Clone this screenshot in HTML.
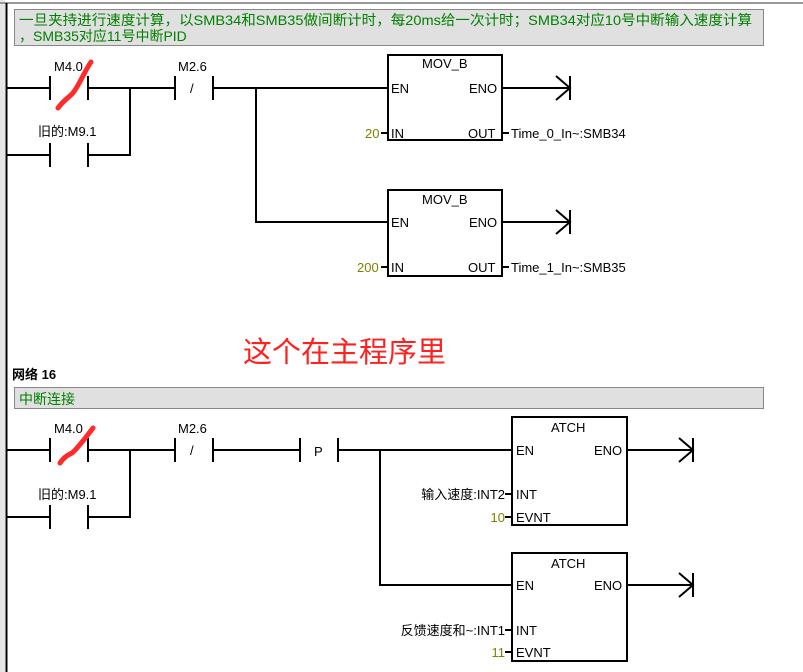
<!DOCTYPE html>
<html><head><meta charset="utf-8"><style>
html,body{margin:0;padding:0;background:#fff;}
svg{display:block;}
text{font-family:"Liberation Sans","Noto Sans CJK SC",sans-serif;font-size:13px;fill:#000;}
.g{fill:#008000;font-size:14px;}
.o{fill:#808000;}
</style></head><body>
<svg width="803" height="672" viewBox="0 0 803 672" xmlns="http://www.w3.org/2000/svg">
<rect x="0" y="0" width="5" height="672" fill="#e6e6e6"/>
<line x1="0" y1="3" x2="803" y2="3" stroke="#999" stroke-width="2"/>
<line x1="6.5" y1="3" x2="6.5" y2="672" stroke="#000" stroke-width="2"/>

<rect x="14.5" y="9.5" width="749" height="36" fill="#e0e0e0" stroke="#888"/>
<text class="g" x="19" y="25" textLength="733" lengthAdjust="spacingAndGlyphs">一旦夹持进行速度计算，以SMB34和SMB35做间断计时，每20ms给一次计时；SMB34对应10号中断输入速度计算</text>
<text class="g" x="19" y="41">，SMB35对应11号中断PID</text>

<g stroke="#000" stroke-width="2" fill="none">
<path d="M7 88H50M50 76V100M88 76V100M88 88H175M175 76V100M213 76V100M213 88H388"/>
<path d="M7 155H50M50 143V167M88 143V167M88 155H130V88"/>
<path d="M256 88V222H388"/>
<rect x="388" y="55" width="114" height="85"/>
<rect x="388" y="190" width="114" height="86"/>
<path d="M502 88H570M556 76L570 88L556 100M570 76V100"/>
<path d="M502 222H570M556 210L570 222L556 234M570 210V234"/>
<path d="M381 133H388M502 133H509M381 267H388M502 267H509"/>
<path d="M7 450H50M50 438V462M88 438V462M88 450H175M175 438V462M213 438V462M213 450H300M300 438V462M338 438V462M338 450H512"/>
<path d="M7 517H50M50 505V529M88 505V529M88 517H130V450"/>
<path d="M380 450V585H512"/>
<rect x="512" y="417" width="115" height="108"/>
<rect x="512" y="553" width="115" height="108"/>
<path d="M627 450H693M679 438L693 450L679 462M693 438V462"/>
<path d="M627 585H693M679 573L693 585L679 597M693 573V597"/>
<path d="M505 494H512M505 517H512M505 630H512M505 652H512"/>
</g>

<text x="54" y="71">M4.0</text>
<text x="38" y="136">旧的:M9.1</text>
<text x="178" y="71">M2.6</text>
<text x="190" y="93">/</text>
<text x="422" y="68">MOV_B</text>
<text x="391" y="93">EN</text>
<text x="469" y="93">ENO</text>
<text x="391" y="138">IN</text>
<text x="468" y="138">OUT</text>
<text class="o" x="365" y="138">20</text>
<text x="511" y="138">Time_0_In~:SMB34</text>
<text x="422" y="204">MOV_B</text>
<text x="391" y="227">EN</text>
<text x="469" y="227">ENO</text>
<text x="391" y="272">IN</text>
<text x="468" y="272">OUT</text>
<text class="o" x="357" y="272">200</text>
<text x="511" y="272">Time_1_In~:SMB35</text>

<text x="243" y="362" style="fill:#ff2020;font-size:29px;">这个在主程序里</text>

<text x="12" y="379" style="font-weight:bold;font-size:13px;">网络 16</text>
<rect x="14.5" y="387.5" width="749" height="21" fill="#e0e0e0" stroke="#888"/>
<text class="g" x="19" y="404">中断连接</text>

<text x="54" y="433">M4.0</text>
<text x="38" y="499">旧的:M9.1</text>
<text x="178" y="433">M2.6</text>
<text x="190" y="455">/</text>
<text x="314" y="456">P</text>
<text x="551" y="432">ATCH</text>
<text x="516" y="455">EN</text>
<text x="594" y="455">ENO</text>
<text x="516" y="499">INT</text>
<text x="516" y="522">EVNT</text>
<text x="505" y="499" text-anchor="end">输入速度:INT2</text>
<text class="o" x="505" y="522" text-anchor="end">10</text>
<text x="551" y="568">ATCH</text>
<text x="516" y="590">EN</text>
<text x="594" y="590">ENO</text>
<text x="516" y="635">INT</text>
<text x="516" y="657">EVNT</text>
<text x="505" y="635" text-anchor="end">反馈速度和~:INT1</text>
<text class="o" x="505" y="657" text-anchor="end">11</text>

<path d="M58 108C64 100 68 98 72 94C78 88 84 72 91 62" stroke="#ff2a2a" stroke-width="5" fill="none" stroke-linecap="round"/>
<path d="M60 463C64 457 68 455 72 453C78 448 86 437 93 428" stroke="#ff2a2a" stroke-width="5" fill="none" stroke-linecap="round"/>
</svg>
</body></html>
